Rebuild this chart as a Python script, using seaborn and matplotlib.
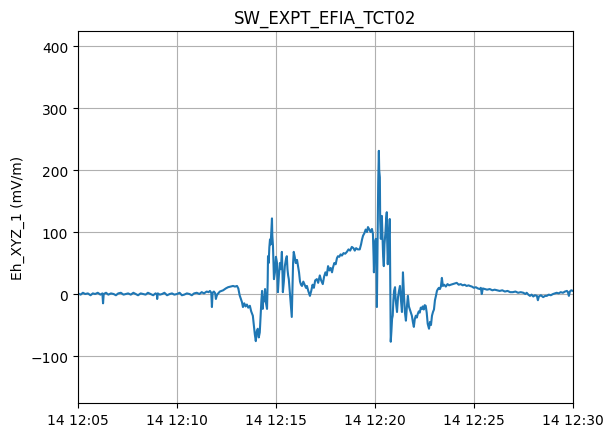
import matplotlib
matplotlib.use('Agg')
import matplotlib.pyplot as plt
import pandas as pd
import seaborn as sns

# seconds after 12:05:00 and field values (mV/m)
t_sec = [0, 8, 15, 22, 30, 38, 45, 52, 60, 68, 74, 76, 78, 85, 92, 100, 108, 115, 122, 130,
         138, 145, 152, 160, 168, 175, 182, 190, 198, 205, 212, 220, 228, 235, 239, 240, 242, 248, 255, 262,
         270, 278, 285, 292, 300, 308, 315, 322, 330, 338, 345, 352, 360, 368, 375, 382, 390, 396, 400, 404,
         406, 408, 412, 416, 418, 421, 425, 430, 440, 448, 455, 462, 470, 476, 482, 486, 490, 494, 497, 500,
         504, 508, 512, 516, 521, 525, 530, 533, 536, 539, 542, 545, 548, 551, 554, 556, 558, 560, 562, 564,
         567, 570, 573, 575, 576, 578, 580, 582, 584, 586, 588, 589, 591, 593, 594, 597, 600, 603, 605, 606,
         609, 612, 615, 618, 620, 621, 624, 627, 630, 633, 635, 637, 639, 641, 644, 648, 650, 652, 654, 657,
         660, 664, 667, 670, 673, 676, 679, 683, 687, 691, 694, 698, 701, 703, 707, 711, 715, 719, 724, 728,
         733, 737, 742, 746, 750, 754, 758, 762, 766, 770, 773, 777, 781, 785, 788, 792, 796, 800, 805, 810,
         815, 820, 825, 830, 835, 839, 843, 848, 854, 858, 861, 864, 868, 872, 876, 879, 883, 887, 891, 894,
         896, 897, 899, 901, 903, 905, 906, 908, 910, 912, 913, 915, 916, 918, 920, 921, 923, 925, 927, 929,
         932, 934, 936, 937, 939, 941, 943, 945, 946, 947, 948, 950, 952, 954, 956, 958, 961, 963, 965, 967,
         970, 973, 976, 979, 982, 984, 985, 988, 991, 994, 997, 1000, 1003, 1006, 1009, 1012, 1015, 1018, 1021, 1024,
         1027, 1030, 1033, 1036, 1039, 1042, 1045, 1048, 1051, 1054, 1057, 1060, 1064, 1067, 1070, 1073, 1076, 1079, 1082, 1085,
         1088, 1091, 1094, 1097, 1100, 1103, 1106, 1110, 1115, 1120, 1125, 1130, 1136, 1142, 1148, 1154, 1160, 1166, 1172, 1178,
         1184, 1188, 1194, 1200, 1206, 1212, 1218, 1221, 1224, 1227, 1233, 1240, 1248, 1256, 1263, 1270, 1278, 1286, 1294, 1302,
         1310, 1318, 1326, 1334, 1342, 1350, 1356, 1360, 1365, 1370, 1375, 1380, 1385, 1391, 1394, 1397, 1403, 1410, 1416, 1421,
         1427, 1433, 1440, 1446, 1451, 1457, 1463, 1470, 1476, 1482, 1485, 1488, 1491, 1495, 1500]

eh_xyz_1 = [1, -1, 2, 0, 1, -2, 1, 0, 2, -1, 1, -15, 0, 2, -1, 1, 0, -2, 1, 2,
            -1, 0, 1, -1, 2, 0, -2, 1, 0, -1, 2, 0, -2, 1, 0, -8, 1, -1, 0, 2,
            -2, 0, 1, -1, 0, 2, -2, -1, 1, 0, -2, 1, 2, 0, 3, 1, 4, 3, 5, 2,
            -21, 2, 4, 1, -8, -2, 1, 4, 6, 9, 11, 12, 13, 12, 13, 9, -2, -8, -13, -21,
            -15, -20, -17, -22, -19, -28, -35, -50, -65, -76, -60, -56, -70, -62, -30, -10, 5, -24, -5, -12,
            8, -15, -24, 20, 61, 50, 75, 88, 80, 100, 122, 95, 78, 40, 24, 35, 60, 51, 20, 3,
            30, 50, 40, 68, 30, 3, 20, 45, 55, 61, 40, 30, 24, 10, -10, -37, 10, 50, 68, 60,
            50, 55, 45, 35, 20, 15, 13, 20, 15, 10, 13, 5, 0, -3, 5, 15, 10, 22, 24, 18,
            30, 22, 16, 28, 35, 30, 45, 38, 42, 35, 43, 50, 48, 58, 61, 60, 64, 62, 66, 65,
            68, 72, 70, 76, 74, 70, 74, 72, 72, 80, 88, 94, 98, 104, 100, 108, 104, 100, 105, 97,
            60, 35, 70, 85, 89, 30, -21, 80, 180, 231, 200, 188, 120, 89, 110, 126, 90, 60, 45, 80,
            100, 120, 132, 90, 48, 80, 100, 121, 60, -20, -77, -60, -40, -35, -10, 5, 11, -10, -20, -29,
            -5, 5, 13, -10, -29, 10, 35, 0, -30, -43, -20, -3, -20, -25, -30, -35, -45, -53, -40, -35,
            -38, -32, -28, -30, -22, -24, -20, -25, -18, -19, -30, -48, -56, -45, -50, -35, -29, -25, -10, -3,
            5, 8, 10, 8, 12, 26, 13, 15, 12, 16, 14, 15, 16, 17, 18, 15, 16, 14, 15, 13,
            14, 13, 12, 10, 11, 9, 8, 10, 0, 9, 8, 7, 8, 6, 7, 6, 5, 6, 4, 5,
            3, 3, 4, 2, 3, 2, 0, 2, -1, -3, -1, -4, -2, -3, -10, -4, -2, -5, -3, -3,
            -1, -2, 0, 1, 2, 1, 3, 2, 4, 5, 3, -3, 4, 6, 5]

start = pd.Timestamp('2021-06-14 12:05:00')
end = pd.Timestamp('2021-06-14 12:30:00')

df = pd.DataFrame({'time': start + pd.to_timedelta(t_sec, unit='s'),
                   'Eh_XYZ_1': eh_xyz_1})

fig, ax = plt.subplots(figsize=(6.14, 4.35), dpi=100)
fig.subplots_adjust(left=0.127, right=0.933, top=0.926, bottom=0.071)
sns.lineplot(data=df, x='time', y='Eh_XYZ_1', estimator=None, color='tab:blue', linewidth=1.5, ax=ax)
ax.set_xlim(start, end)
ax.set_ylim(-176, 424)
ax.set_xlabel('')
ax.set_ylabel('Eh_XYZ_1 (mV/m)')
ax.set_title('SW_EXPT_EFIA_TCT02')
ax.grid(True)
fig.savefig('out.png', dpi=100)
